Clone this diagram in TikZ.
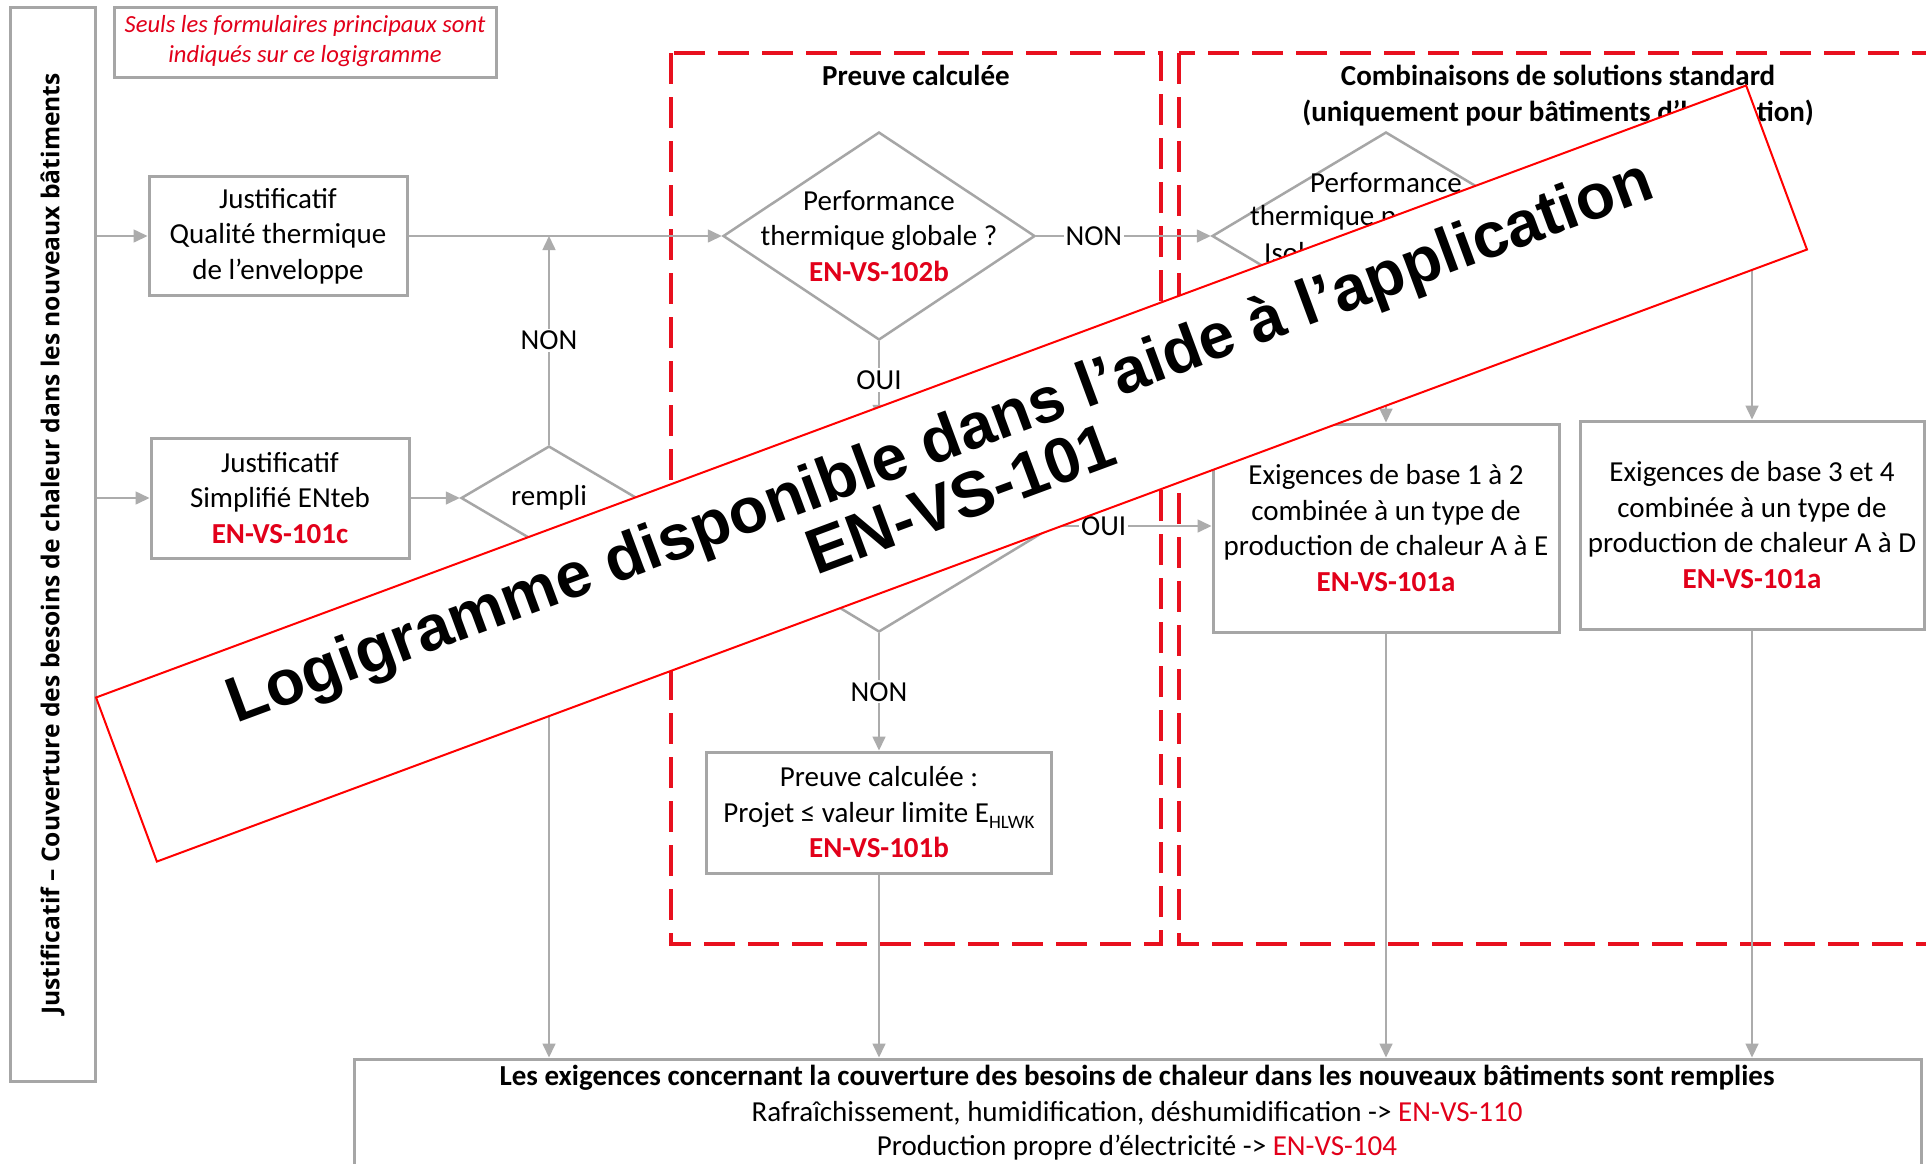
\documentclass[tikz,border=0pt]{standalone}
\usepackage{fontspec}
\setmainfont{Carlito}
\newfontfamily\vfont{Open Sans}
\newfontfamily\bannerfont{Liberation Sans}
\usetikzlibrary{arrows.meta,shapes.geometric}
\definecolor{lgray}{RGB}{166,166,166}
\definecolor{cgray}{RGB}{172,172,172}
\definecolor{dred}{RGB}{226,0,26}
\definecolor{dashred}{RGB}{232,16,30}
\definecolor{bred}{RGB}{255,0,0}
\newcommand\refb[1]{{\bfseries\color{dred}#1}}
\begin{document}
\begin{tikzpicture}[x=1pt,y=-1pt,
  body/.style={font=\fontsize{29}{35.5}\selectfont, align=center, inner sep=0pt},
  box/.style={draw=lgray, line width=3pt, fill=white, inner sep=0pt, body},
  dia/.style={diamond, draw=lgray, line width=2.5pt, fill=white, inner sep=0pt},
  conn/.style={draw=cgray, line width=1.6pt},
  arr/.style={conn, -{Triangle[length=14pt,width=13pt]}},
  lbl/.style={fill=white, inner sep=2pt, font=\fontsize{29}{35}\selectfont},
  rdash/.style={draw=dashred, line width=4pt, dash pattern=on 31pt off 13pt},
  ttl/.style={font=\bfseries\fontsize{29}{35.5}\selectfont, align=center, inner sep=0pt}]
\useasboundingbox (0,0) rectangle (1926,1163);
\clip (0,0) rectangle (1926,1163);
\fill[white] (0,0) rectangle (1926,1163);

% dashed red zones
\draw[rdash] (671,53) rectangle (1161,944);
\draw[rdash] (1179,53) rectangle (1990,944);
\node[ttl] (tpc) at (916,75) {Preuve calculée};
\node[ttl] (tcs) at (1558,95.5) {Combinaisons de solutions standard\\(uniquement pour bâtiments d’habitation)};

% left vertical box
\node[box, minimum width=85pt, minimum height=1074pt] (lbox) at (52.5,544) {};
\node[rotate=90, inner sep=0pt, font=\vfont\bfseries\fontsize{24.6}{25}\selectfont] (ltext) at (lbox.center) {Justificatif – Couverture des besoins de chaleur dans les nouveaux bâtiments};

% note
\node[box, minimum width=382pt, minimum height=70pt] (note) at (305,42) {};
\node[inner sep=0pt, align=center, text=dred, font=\itshape\fontsize{24.6}{30.5}\selectfont] (notetext) at ([yshift=1pt]note.center) {Seuls les formulaires principaux sont\\indiqués sur ce logigramme};

% boxes
\node[box, minimum width=258pt, minimum height=119pt] (boxA) at (278,236) {Justificatif\\Qualité thermique\\de l’enveloppe};
\node[box, minimum width=258pt, minimum height=120pt] (boxB) at (280,498) {Justificatif\\Simplifié ENteb\\\refb{EN-VS-101c}};
\node[box, minimum width=345pt, minimum height=121pt] (boxD) at (879,812.5) {Preuve calculée :\\Projet ≤ valeur limite E\raisebox{-0.22em}{\fontsize{19}{19}\selectfont HLWK}\\\refb{EN-VS-101b}};
\node[box, minimum width=346pt, minimum height=208pt] (boxC) at (1386,528) {Exigences de base 1 à 2\\combinée à un type de\\production de chaleur A à E\\\refb{EN-VS-101a}};
\node[box, minimum width=344pt, minimum height=208pt] (boxE) at (1752,525) {Exigences de base 3 et 4\\combinée à un type de\\production de chaleur A à D\\\refb{EN-VS-101a}};
\node[box, minimum width=1567pt, minimum height=131pt] (bot) at (1137.5,1124.5) {};
\node[ttl] (bt1) at (1137,1078) {Les exigences concernant la couverture des besoins de chaleur dans les nouveaux bâtiments sont remplies};
\node[body] (bt2) at (1137,1113) {Rafraîchissement, humidification, déshumidification -> \textcolor{dred}{EN-VS-110}};
\node[body] (bt3) at (1137,1148) {Production propre d’électricité -> \textcolor{dred}{EN-VS-104}};

% diamonds
\node[dia, minimum width=312pt, minimum height=208pt] (d1) at (879,236) {};
\node[body] (d1t) at (d1.center) {Performance\\thermique globale ?\\\refb{EN-VS-102b}};
\node[dia, minimum width=350pt, minimum height=212pt] (d2) at (879,526) {};
\node[dia, minimum width=176pt, minimum height=104pt] (drem) at (549,498) {};
\node[body] (dremt) at (drem.center) {rempli};
\node[dia, minimum width=348pt, minimum height=208pt] (d3) at (1386,236) {};
\node[body] (d3a) at (1386,183) {Performance};
\node[body, anchor=west] (d3b) at (1250,218) {thermique p};
\node[body, anchor=west] (d3c) at (1264,253) {Isol};

% connectors
\draw[arr] (boxA.west -| lbox.east) -- (boxA.west);
\draw[arr] (boxB.west -| lbox.east) -- (boxB.west);
\draw[arr] (boxA.east) -- (d1.west);
\draw[arr] (boxB.east) -- (drem.west);
\draw[arr] (drem.north) -- (drem.north |- boxA.east) node[lbl, pos=0.5] (lnon1) {NON};
\draw[arr] (d1.east) -- (d3.west) node[lbl, pos=0.33] (lnon2) {NON};
\draw[arr] (d1.south) -- (d2.north) node[lbl, pos=0.5] (loui1) {OUI};
\draw[arr] (d2.east) -- (d2.east -| boxC.west) node[lbl, pos=0.31] (loui2) {OUI};
\draw[arr] (d2.south) -- (boxD.north) node[lbl, pos=0.5] (lnon3) {NON};
\draw[arr] (boxD.south) -- (boxD.south |- bot.north);
\draw[arr] (drem.south) -- (drem.south |- bot.north);
\draw[arr] (d3.south) -- (boxC.north);
\draw[arr] (d3.east) -- (d3.east -| boxE.north) -- (boxE.north);
\draw[arr] (boxC.south) -- (boxC.south |- bot.north);
\draw[arr] (boxE.south) -- (boxE.south |- bot.north);

% banner
\begin{scope}[shift={(951.5,473.5)}, rotate=20.35, transform shape]
\node[draw=bred, line width=2pt, fill=white, minimum width=1760pt, minimum height=175pt, inner sep=0pt] (banner) at (0,0) {};
\node[anchor=base, inner sep=0pt, font=\bannerfont\bfseries\fontsize{64}{64}\selectfont] (ban1) at (0,-14) {Logigramme disponible dans l’aide à l’application};
\node[anchor=base, inner sep=0pt, font=\bannerfont\bfseries\fontsize{64}{64}\selectfont] (ban2) at (0,49) {EN-VS-101};
\end{scope}
\end{tikzpicture}
\end{document}
